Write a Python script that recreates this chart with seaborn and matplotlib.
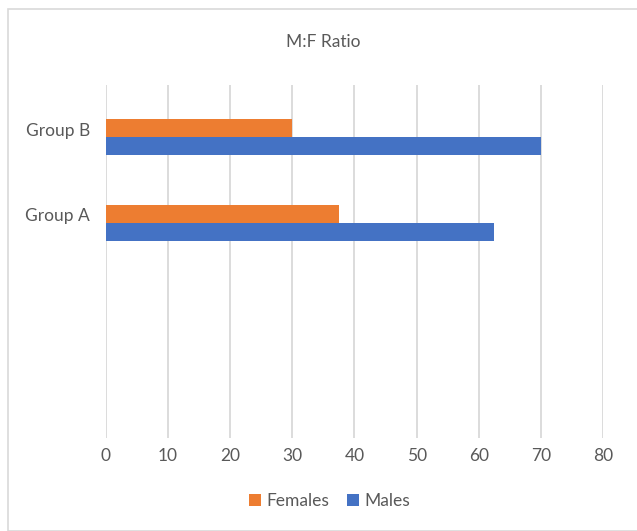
import matplotlib
matplotlib.use("Agg")
import matplotlib.pyplot as plt
from matplotlib.patches import Rectangle
import matplotlib.transforms as mtransforms
import seaborn as sns
import pandas as pd

groups = ["Group B", "Group A"]
females = [30, 37.5]
males = [70, 62.5]
series_names = ["Females", "Males"]
x_ticks = [0, 10, 20, 30, 40, 50, 60, 70, 80]

colors = {"Females": "#ED7D31", "Males": "#4472C4"}
text_color = "#595959"
grid_color = "#D9D9D9"

sns.set_theme(style="white")
plt.rcParams["font.family"] = ["Lato", "DejaVu Sans"]

df = pd.DataFrame({
    "group": groups * 2,
    "value": females + males,
    "series": [series_names[0]] * len(groups) + [series_names[1]] * len(groups),
})

fig = plt.figure(figsize=(6.37, 5.31), dpi=100)
ax = fig.add_axes([0.1664, 0.1751, 0.7802, 0.6648])

sns.barplot(data=df, y="group", x="value", hue="series", order=groups,
            hue_order=series_names, palette=colors, width=0.42, orient="h",
            saturation=1, linewidth=0, ax=ax, legend=True)

ax.set_xlim(0, 80)
ax.set_ylim(3.51, -0.607)
ax.set_xticks(x_ticks)
ax.set_xticklabels([str(t) for t in x_ticks])
for t in x_ticks:
    ax.axvline(t, color=grid_color, lw=1.3, zorder=0)
ax.grid(False)
for s in ax.spines.values():
    s.set_visible(False)
ax.set_xlabel("")
ax.set_ylabel("")
ax.tick_params(axis="both", length=0, labelsize=12.5, colors=text_color)
ax.tick_params(axis="x", pad=7)
ax.tick_params(axis="y", pad=11.5)

# category labels sit slightly above the centre of each bar pair
shift = mtransforms.ScaledTranslation(0, 8 / 100, fig.dpi_scale_trans)
for lbl in ax.get_yticklabels():
    lbl.set_transform(lbl.get_transform() + shift)

fig.text(0.507, 0.921, "M:F Ratio", ha="center", va="center",
         fontsize=12.5, color=text_color)

handles, labels = ax.get_legend_handles_labels()
ax.legend_.remove()
fig.legend(handles, labels, loc="center", bbox_to_anchor=(0.517, 0.057),
           ncol=2, frameon=False, fontsize=12.5, labelcolor=text_color,
           handlelength=0.7, handleheight=0.7, handletextpad=0.3,
           columnspacing=1.0)

fig.add_artist(Rectangle((8 / 637, 0), 1.0, 1 - 9 / 531,
                         transform=fig.transFigure, fill=False,
                         edgecolor=grid_color, lw=1.2))

fig.savefig("out.png", dpi=100)
